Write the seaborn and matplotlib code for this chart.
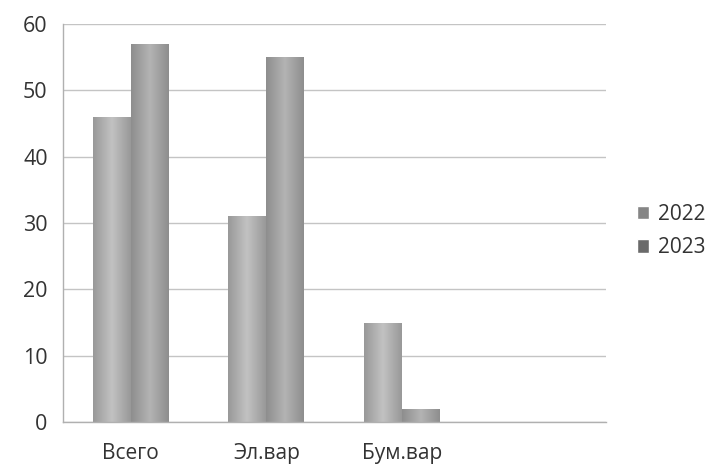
import numpy as np
import pandas as pd
import matplotlib
matplotlib.use('Agg')
import matplotlib.pyplot as plt
import seaborn as sns
from matplotlib.colors import LinearSegmentedColormap
from matplotlib.patches import Patch

# данные
categories = ['Всего', 'Эл.вар', 'Бум.вар']
years = ['2022', '2023']
values_2022 = [46, 31, 15]
values_2023 = [57, 55, 2]
y_ticks = [0, 10, 20, 30, 40, 50, 60]

df = pd.DataFrame({
    'cat': categories * 2,
    'year': [years[0]] * 3 + [years[1]] * 3,
    'value': values_2022 + values_2023,
})

sns.set_style('white')
plt.rcParams['font.family'] = ['Open Sans', 'DejaVu Sans']

fig = plt.figure(figsize=(7.12, 4.67), dpi=100)
ax = fig.add_axes([0.0885, 0.0964, 0.762, 0.852])

legend_colors = {'2022': '#858585', '2023': '#6a6a6a'}
bar_edges = {'2022': '#999999', '2023': '#8e8e8e'}
bar_mid = {'2022': '#c2c2c2', '2023': '#b4b4b4'}

sns.barplot(data=df, x='cat', y='value', hue='year', order=categories,
            palette=legend_colors, width=0.56, gap=0, ax=ax, legend=False,
            saturation=1, linewidth=0)

# мягкий градиент на столбцах
for i, cont in enumerate(ax.containers):
    yr = years[i]
    cmap = LinearSegmentedColormap.from_list(yr, [bar_edges[yr], bar_mid[yr], bar_edges[yr]])
    grad = np.linspace(0, 1, 64).reshape(1, -1)
    for p in cont.patches:
        x0, y0 = p.get_x(), p.get_y()
        w, h = p.get_width(), p.get_height()
        im = ax.imshow(grad, cmap=cmap, aspect='auto', extent=[x0, x0 + w, y0, y0 + h],
                       zorder=p.get_zorder() + 0.1, interpolation='bicubic')
        im.set_clip_path(p)

ax.set_xlim(-0.5, 3.5)
ax.set_ylim(0, 60)
ax.set_yticks(y_ticks)
ax.set_xticks(range(len(categories)))
ax.set_xticklabels(categories)
ax.set_xticks(np.arange(-0.5, 3.6, 1), minor=True)
ax.set_xlabel('')
ax.set_ylabel('')

ax.yaxis.grid(True, color='#c4c4c4', linewidth=1.0)
ax.set_axisbelow(True)
for s in ['top', 'right']:
    ax.spines[s].set_visible(False)
for s in ['left', 'bottom']:
    ax.spines[s].set_color('#b0b0b0')
    ax.spines[s].set_linewidth(1.0)

ax.tick_params(axis='x', which='major', length=0, pad=15, labelsize=15, labelcolor='#333333')
ax.tick_params(axis='x', which='minor', length=5, color='#b0b0b0', direction='out')
ax.tick_params(axis='y', length=5, color='#b0b0b0', pad=6, labelsize=15.5, labelcolor='#333333')

handles = [Patch(facecolor=legend_colors[y], label=y) for y in years]
fig.legend(handles=handles, loc='center left', bbox_to_anchor=(0.868, 0.505),
           frameon=False, fontsize=15, handlelength=0.6, handleheight=0.6,
           handletextpad=0.4, labelspacing=0.6, labelcolor='#333333')

fig.savefig('out.png', dpi=100, facecolor='white')
